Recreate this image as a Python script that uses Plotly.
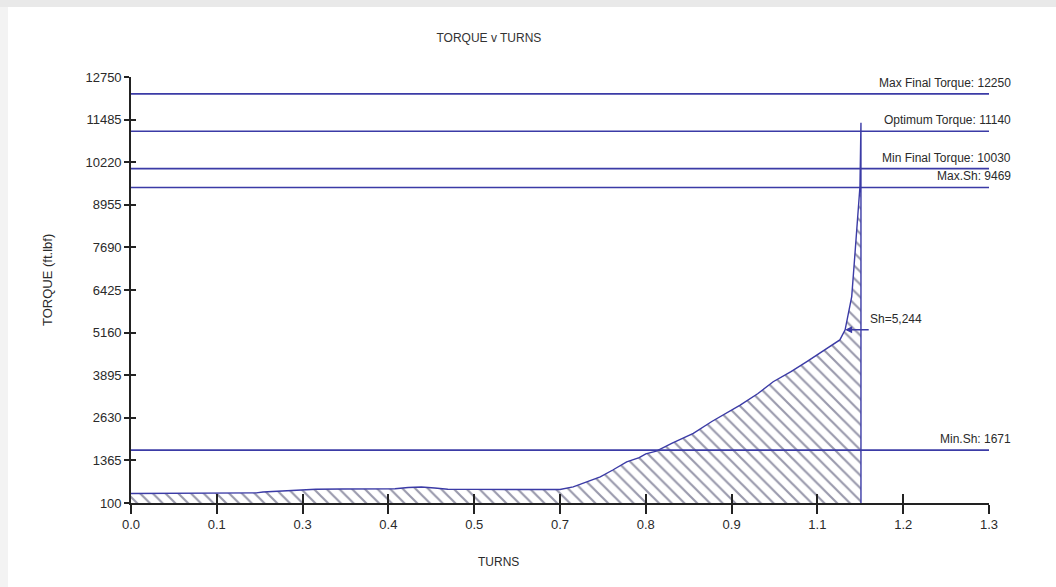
import plotly.graph_objects as go

# ---- data ----
turns = [0.0, 0.05, 0.10, 0.15, 0.19, 0.20, 0.22, 0.25, 0.28, 0.32, 0.36, 0.40, 0.42,
         0.44, 0.46, 0.48, 0.52, 0.56, 0.60, 0.65, 0.67, 0.69, 0.711, 0.73, 0.751,
         0.77, 0.78, 0.796, 0.82, 0.852, 0.88, 0.923, 0.95, 0.973, 1.0, 1.024,
         1.05, 1.074, 1.082, 1.087, 1.092, 1.097, 1.102, 1.1045, 1.106, 1.106]
torque = [380, 385, 390, 395, 400, 427, 450, 478, 508, 515, 520, 525, 560,
          576, 546, 510, 505, 500, 500, 500, 580, 720, 874, 1080, 1320,
          1450, 1560, 1640, 1880, 2165, 2520, 3008, 3350, 3701, 4000, 4296,
          4620, 4942, 5244, 5700, 6231, 7522, 8811, 9504, 11391, 100]

ref_names = ["Max Final Torque", "Optimum Torque", "Min Final Torque", "Max.Sh", "Min.Sh"]
ref_values = [12250, 11140, 10030, 9469, 1671]

x_tick_vals = [0.0, 0.13, 0.26, 0.39, 0.52, 0.65, 0.78, 0.91, 1.04, 1.17, 1.3]
x_tick_text = ["0.0", "0.1", "0.3", "0.4", "0.5", "0.7", "0.8", "0.9", "1.1", "1.2", "1.3"]
y_tick_vals = [100, 1365, 2630, 3895, 5160, 6425, 7690, 8955, 10220, 11485, 12750]
y_tick_text = [str(v) for v in y_tick_vals]

sh_turns = 1.082
sh_torque = 5244
sh_label = "Sh=5,244"

x_range = [0, 1.3]
y_range = [100, 12750]

# ---- style ----
BLUE = "#3b3ba6"
FONT = "Liberation Sans, Arial, sans-serif"
TXT = "#2a2a2a"

fig = go.Figure()

# torque curve with hatched area
fig.add_trace(go.Scatter(
    x=turns, y=torque, mode="lines",
    line=dict(color=BLUE, width=1.4),
    fill="tozeroy",
    fillpattern=dict(shape="\\", size=9, solidity=0.24,
                     fgcolor="#34345a", bgcolor="white"),
    showlegend=False, name="Torque"))

# reference lines (drawn over the hatched area)
for name, val in zip(ref_names, ref_values):
    fig.add_trace(go.Scatter(x=x_range, y=[val, val], mode="lines",
                             line=dict(color=BLUE, width=1.6),
                             showlegend=False, hoverinfo="skip", name=name))

# invisible helper traces for inside tick marks
fig.add_trace(go.Scatter(x=[x_range[0]], y=[y_range[0]], xaxis="x2", yaxis="y",
                         mode="markers", marker=dict(opacity=0),
                         showlegend=False, hoverinfo="skip"))
fig.add_trace(go.Scatter(x=[x_range[0]], y=[y_range[0]], xaxis="x", yaxis="y2",
                         mode="markers", marker=dict(opacity=0),
                         showlegend=False, hoverinfo="skip"))

plot_h = 587 - 77 - 84
plot_w = 1056 - 131 - 67

annotations = []
for name, val in zip(ref_names, ref_values):
    annotations.append(dict(x=1.028, y=val, xref="paper", yref="y",
                            text=f"{name}: {val}", showarrow=False,
                            xanchor="right", yanchor="middle", yshift=11,
                            font=dict(family=FONT, size=12, color=TXT)))

# Sh arrow and label
annotations.append(dict(x=sh_turns, y=sh_torque, xref="x", yref="y",
                        ax=1.12, ay=sh_torque, axref="x", ayref="y",
                        text="", showarrow=True, arrowhead=2, arrowsize=1,
                        arrowwidth=1.4, arrowcolor=BLUE))
annotations.append(dict(x=1.116, y=sh_torque, xref="x", yref="y",
                        text=sh_label, showarrow=False,
                        xanchor="left", yanchor="middle", yshift=11,
                        font=dict(family=FONT, size=12, color=TXT)))

# axis titles (off-centre in the reference)
annotations.append(dict(x=(498 - 131) / plot_w, y=-(562 - 503) / plot_h,
                        xref="paper", yref="paper", text="TURNS", showarrow=False,
                        xanchor="center", yanchor="middle",
                        font=dict(family=FONT, size=12, color=TXT)))
annotations.append(dict(x=(47 - 131) / plot_w, y=(503 - 280) / plot_h,
                        xref="paper", yref="paper", text="TORQUE (ft.lbf)",
                        textangle=-90, showarrow=False,
                        xanchor="center", yanchor="middle",
                        font=dict(family=FONT, size=13, color=TXT)))

# light grey page edges seen in the reference
shapes = [
    dict(type="rect", xref="paper", yref="paper", layer="below",
         x0=-131 / plot_w, x1=(1056 - 131) / plot_w,
         y0=1 + 70 / plot_h, y1=1 + 77 / plot_h,
         fillcolor="#e9e9e9", line=dict(width=0)),
    dict(type="rect", xref="paper", yref="paper", layer="below",
         x0=-131 / plot_w, x1=-123 / plot_w,
         y0=-84 / plot_h, y1=1 + 70 / plot_h,
         fillcolor="#f3f3f3", line=dict(width=0)),
]

fig.update_layout(
    width=1056, height=587,
    margin=dict(l=131, r=67, t=77, b=84),
    paper_bgcolor="white", plot_bgcolor="white",
    title=dict(text="TORQUE v TURNS", x=0.463, xanchor="center",
               y=1 - 38 / 587, yanchor="middle", yref="container",
               font=dict(family=FONT, size=12, color="#333333")),
    xaxis=dict(range=x_range, tickvals=x_tick_vals, ticktext=x_tick_text,
               ticks="outside", ticklen=9, tickwidth=1.5, tickcolor="#222222",
               showline=True, linecolor="#222222", linewidth=1.6,
               showgrid=False, zeroline=False,
               tickfont=dict(family=FONT, size=13, color=TXT)),
    xaxis2=dict(range=x_range, overlaying="x", anchor="y", side="bottom",
                tickvals=x_tick_vals, ticks="inside", ticklen=9, tickwidth=1.5,
                tickcolor="#222222", showticklabels=False, showline=False,
                showgrid=False, zeroline=False),
    yaxis=dict(range=y_range, tickvals=y_tick_vals, ticktext=y_tick_text,
               ticks="outside", ticklen=5, tickwidth=1.5, tickcolor="#222222",
               showline=True, linecolor="#222222", linewidth=1.6,
               showgrid=False, zeroline=False,
               tickfont=dict(family=FONT, size=13, color=TXT)),
    yaxis2=dict(range=y_range, overlaying="y", anchor="x", side="left",
                tickvals=y_tick_vals, ticks="inside", ticklen=5, tickwidth=1.5,
                tickcolor="#222222", showticklabels=False, showline=False,
                showgrid=False, zeroline=False),
    annotations=annotations,
    shapes=shapes,
)

fig.write_html("out.html",
               config={"displayModeBar": False},
               post_script="document.body.style.margin='0';"
                           "document.body.style.overflow='hidden';")
